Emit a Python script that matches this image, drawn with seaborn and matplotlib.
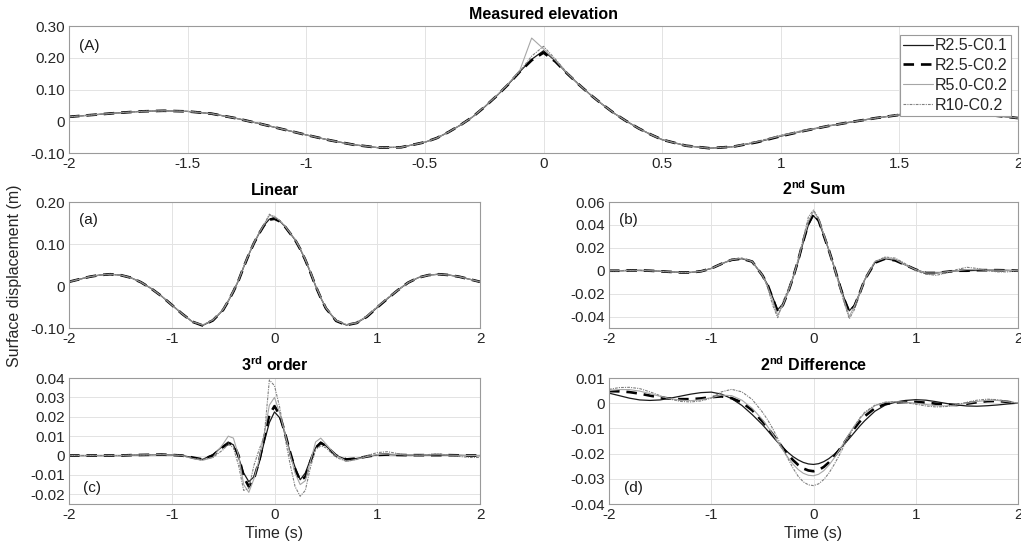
import numpy as np
import pandas as pd
import matplotlib
matplotlib.use("Agg")
import matplotlib.pyplot as plt
import seaborn as sns

# ---------------- data ----------------
T = [-2.0, -1.9, -1.8, -1.7, -1.6, -1.5, -1.4, -1.3, -1.2, -1.1, -1.0, -0.9, -0.8, -0.7, -0.6,
     -0.5, -0.45, -0.4, -0.35, -0.3, -0.25, -0.2, -0.15, -0.1, -0.05, 0.0,
     0.05, 0.1, 0.15, 0.2, 0.25, 0.3, 0.35, 0.4, 0.45, 0.5,
     0.6, 0.7, 0.8, 0.9, 1.0, 1.1, 1.2, 1.3, 1.4, 1.5, 1.6, 1.7, 1.8, 1.9, 2.0]

series_names = ["R2.5-C0.1", "R2.5-C0.2", "R5.0-C0.2", "R10-C0.2"]

# (A) Measured elevation
meas_r25_c01 = [0.014, 0.020, 0.026, 0.031, 0.033, 0.031, 0.024, 0.010, -0.007, -0.025, -0.043, -0.060, -0.074, -0.083, -0.082,
                -0.066, -0.053, -0.034, -0.012, 0.013, 0.044, 0.078, 0.115, 0.156, 0.195, 0.222,
                0.190, 0.150, 0.115, 0.082, 0.052, 0.024, 0.000, -0.022, -0.041, -0.058,
                -0.077, -0.085, -0.080, -0.066, -0.047, -0.030, -0.015, -0.002, 0.010, 0.020, 0.025, 0.026, 0.024, 0.018, 0.010]
meas_r25_c02 = [0.014, 0.020, 0.026, 0.031, 0.033, 0.031, 0.024, 0.010, -0.007, -0.025, -0.043, -0.060, -0.074, -0.083, -0.082,
                -0.066, -0.053, -0.034, -0.012, 0.013, 0.044, 0.078, 0.115, 0.156, 0.192, 0.216,
                0.188, 0.150, 0.115, 0.082, 0.052, 0.024, 0.000, -0.022, -0.041, -0.058,
                -0.077, -0.085, -0.080, -0.066, -0.047, -0.030, -0.015, -0.002, 0.010, 0.020, 0.025, 0.026, 0.024, 0.018, 0.010]
meas_r50_c02 = [0.014, 0.020, 0.026, 0.031, 0.033, 0.031, 0.024, 0.010, -0.007, -0.025, -0.043, -0.060, -0.074, -0.083, -0.082,
                -0.066, -0.053, -0.034, -0.012, 0.013, 0.045, 0.079, 0.117, 0.160, 0.262, 0.228,
                0.192, 0.151, 0.115, 0.082, 0.052, 0.024, 0.000, -0.022, -0.041, -0.058,
                -0.077, -0.085, -0.080, -0.065, -0.046, -0.030, -0.015, -0.002, 0.010, 0.020, 0.026, 0.027, 0.024, 0.018, 0.010]
meas_r10_c02 = [0.014, 0.020, 0.026, 0.031, 0.033, 0.031, 0.024, 0.010, -0.007, -0.025, -0.043, -0.060, -0.074, -0.083, -0.082,
                -0.066, -0.053, -0.034, -0.012, 0.013, 0.044, 0.078, 0.116, 0.157, 0.205, 0.236,
                0.196, 0.152, 0.116, 0.082, 0.052, 0.024, 0.000, -0.022, -0.041, -0.058,
                -0.077, -0.085, -0.080, -0.064, -0.044, -0.028, -0.014, -0.002, 0.010, 0.022, 0.028, 0.028, 0.024, 0.018, 0.010]

# (a) Linear
lin_r25_c01 = [0.010, 0.016, 0.022, 0.026, 0.028, 0.026, 0.020, 0.009, -0.006, -0.024, -0.045, -0.066, -0.085, -0.094, -0.082,
               -0.057, -0.036, -0.013, 0.013, 0.045, 0.075, 0.102, 0.125, 0.145, 0.159, 0.163,
               0.155, 0.142, 0.126, 0.110, 0.088, 0.062, 0.032, 0.000, -0.028, -0.053,
               -0.083, -0.093, -0.088, -0.073, -0.051, -0.030, -0.010, 0.008, 0.020, 0.026, 0.028, 0.026, 0.022, 0.016, 0.010]
lin_r25_c02 = [0.010, 0.016, 0.022, 0.026, 0.028, 0.026, 0.020, 0.009, -0.006, -0.024, -0.045, -0.066, -0.085, -0.094, -0.082,
               -0.057, -0.036, -0.013, 0.013, 0.045, 0.075, 0.102, 0.125, 0.145, 0.158, 0.160,
               0.154, 0.142, 0.126, 0.110, 0.088, 0.062, 0.032, 0.000, -0.028, -0.053,
               -0.083, -0.093, -0.088, -0.073, -0.051, -0.030, -0.010, 0.008, 0.020, 0.026, 0.028, 0.026, 0.022, 0.016, 0.010]
lin_r50_c02 = [0.010, 0.016, 0.022, 0.026, 0.028, 0.026, 0.020, 0.009, -0.006, -0.024, -0.045, -0.066, -0.085, -0.093, -0.081,
               -0.056, -0.035, -0.012, 0.014, 0.046, 0.076, 0.103, 0.126, 0.147, 0.168, 0.166,
               0.156, 0.143, 0.127, 0.111, 0.089, 0.063, 0.033, 0.001, -0.027, -0.052,
               -0.082, -0.092, -0.088, -0.072, -0.050, -0.029, -0.010, 0.008, 0.020, 0.026, 0.028, 0.026, 0.022, 0.016, 0.010]
lin_r10_c02 = [0.010, 0.016, 0.022, 0.026, 0.028, 0.026, 0.020, 0.009, -0.006, -0.024, -0.045, -0.066, -0.085, -0.093, -0.081,
               -0.056, -0.035, -0.012, 0.014, 0.046, 0.076, 0.103, 0.126, 0.147, 0.171, 0.163,
               0.156, 0.143, 0.127, 0.111, 0.089, 0.063, 0.033, 0.001, -0.027, -0.052,
               -0.082, -0.092, -0.087, -0.071, -0.049, -0.029, -0.010, 0.008, 0.020, 0.026, 0.028, 0.026, 0.022, 0.016, 0.010]

# (b) 2nd Sum
sum_r25_c01 = [0.000, 0.000, 0.0003, 0.0003, 0.000, -0.0005, -0.001, -0.0015, -0.0015, -0.0005, 0.002, 0.006, 0.0095, 0.0105, 0.008,
               -0.004, -0.012, -0.023, -0.034, -0.029, -0.019, -0.006, 0.008, 0.025, 0.040, 0.048,
               0.043, 0.031, 0.018, 0.004, -0.010, -0.024, -0.035, -0.030, -0.020, -0.008,
               0.007, 0.0105, 0.009, 0.005, 0.001, -0.002, -0.002, -0.001, 0.000, 0.000, 0.0005, 0.0005, 0.0005, 0.0003, 0.000]
sum_r25_c02 = [0.000, 0.000, 0.0003, 0.0003, 0.000, -0.0005, -0.001, -0.0015, -0.0015, -0.0005, 0.002, 0.006, 0.0095, 0.0105, 0.008,
               -0.004, -0.012, -0.024, -0.036, -0.030, -0.019, -0.006, 0.009, 0.026, 0.041, 0.050,
               0.044, 0.031, 0.018, 0.004, -0.011, -0.025, -0.036, -0.031, -0.020, -0.008,
               0.007, 0.0105, 0.009, 0.005, 0.001, -0.002, -0.002, -0.001, 0.000, 0.000, 0.0005, 0.0005, 0.0005, 0.0003, 0.000]
sum_r50_c02 = [0.000, 0.000, 0.0003, 0.0003, 0.000, -0.0005, -0.001, -0.0015, -0.0015, -0.0005, 0.002, 0.006, 0.0095, 0.011, 0.008,
               -0.004, -0.013, -0.026, -0.039, -0.030, -0.019, -0.006, 0.009, 0.027, 0.043, 0.052,
               0.045, 0.032, 0.018, 0.004, -0.011, -0.026, -0.040, -0.031, -0.020, -0.008,
               0.008, 0.011, 0.010, 0.005, 0.001, -0.002, -0.002, -0.001, 0.000, 0.001, 0.001, 0.0005, 0.0005, 0.0003, 0.000]
sum_r10_c02 = [0.000, 0.000, 0.0003, 0.0003, 0.000, -0.0005, -0.001, -0.0015, -0.0015, -0.0005, 0.002, 0.006, 0.010, 0.011, 0.008,
               -0.004, -0.014, -0.030, -0.041, -0.027, -0.017, -0.005, 0.010, 0.028, 0.047, 0.053,
               0.046, 0.032, 0.018, 0.003, -0.012, -0.028, -0.042, -0.034, -0.021, -0.008,
               0.008, 0.012, 0.011, 0.006, 0.000, -0.003, -0.004, -0.002, 0.001, 0.003, 0.002, 0.000, -0.001, -0.001, 0.000]

# (c) 3rd order
ord3_r25_c01 = [0.000, 0.000, 0.000, 0.000, 0.000, 0.000, 0.0002, 0.0003, 0.0004, 0.0005, 0.0003, 0.000, -0.001, -0.002, 0.0005,
                0.005, 0.007, 0.0055, -0.001, -0.009, -0.0135, -0.011, -0.004, 0.007, 0.017, 0.0225,
                0.0195, 0.012, 0.002, -0.006, -0.0125, -0.009, -0.002, 0.004, 0.007, 0.005,
                0.000, -0.002, -0.0015, -0.0005, 0.0003, 0.0005, 0.0003, 0.0002, 0.0002, 0.0002, 0.0002, 0.0002, 0.0001, 0.000, 0.000]
ord3_r25_c02 = [0.000, 0.000, 0.000, 0.000, 0.000, 0.000, 0.0002, 0.0003, 0.0004, 0.0005, 0.0003, 0.000, -0.001, -0.002, 0.000,
                0.0045, 0.006, 0.006, 0.000, -0.011, -0.016, -0.012, -0.003, 0.009, 0.021, 0.0255,
                0.021, 0.012, 0.002, -0.007, -0.013, -0.011, -0.003, 0.004, 0.0065, 0.005,
                0.000, -0.002, -0.0015, -0.0005, 0.0003, 0.0005, 0.0003, 0.0002, 0.0002, 0.0002, 0.0002, 0.0002, 0.0001, 0.000, 0.000]
ord3_r50_c02 = [0.000, 0.000, 0.000, 0.000, 0.000, 0.000, 0.0002, 0.0003, 0.0004, 0.0005, 0.0003, 0.000, -0.0015, -0.0025, -0.001,
                0.006, 0.010, 0.009, 0.000, -0.015, -0.019, -0.012, -0.002, 0.011, 0.026, 0.030,
                0.022, 0.012, 0.001, -0.009, -0.015, -0.013, -0.003, 0.007, 0.009, 0.006,
                0.000, -0.003, -0.002, -0.0005, 0.0005, 0.0008, 0.0005, 0.0003, 0.0002, 0.0003, 0.0004, 0.0002, 0.0001, 0.000, 0.000]
ord3_r10_c02 = [0.000, 0.000, 0.000, 0.000, 0.000, 0.000, 0.0002, 0.0003, 0.0004, 0.0005, 0.0003, 0.000, -0.0015, -0.002, -0.001,
                0.003, 0.006, 0.004, -0.005, -0.018, -0.017, -0.005, 0.003, 0.010, 0.039, 0.036,
                0.025, 0.010, -0.004, -0.016, -0.021, -0.018, -0.006, 0.003, 0.005, 0.004,
                -0.001, -0.003, -0.002, 0.000, 0.0015, 0.002, 0.001, 0.000, 0.000, 0.0005, 0.001, 0.000, -0.0005, -0.001, -0.001]

# (d) 2nd Difference
dif_r25_c01 = [0.0040, 0.0030, 0.0020, 0.0013, 0.0011, 0.0013, 0.0020, 0.0028, 0.0036, 0.0042, 0.0044, 0.0036, 0.0018, -0.0009, -0.0045,
               -0.0085, -0.0108, -0.0132, -0.0155, -0.0176, -0.0195, -0.0212, -0.0225, -0.0235, -0.0241, -0.0243,
               -0.0240, -0.0232, -0.0220, -0.0204, -0.0185, -0.0163, -0.0140, -0.0116, -0.0092, -0.0070,
               -0.0032, -0.0008, 0.0004, 0.0011, 0.0014, 0.0012, 0.0006, -0.0001, -0.0007, -0.0011, -0.0012, -0.0010, -0.0007, -0.0003, 0.0000]
dif_r25_c02 = [0.0048, 0.0047, 0.0044, 0.0038, 0.0030, 0.0023, 0.0018, 0.0016, 0.0016, 0.0019, 0.0024, 0.0027, 0.0020, 0.0003, -0.0028,
               -0.0072, -0.0097, -0.0123, -0.0150, -0.0178, -0.0203, -0.0226, -0.0245, -0.0259, -0.0267, -0.0270,
               -0.0265, -0.0253, -0.0235, -0.0212, -0.0186, -0.0158, -0.0128, -0.0100, -0.0074, -0.0052,
               -0.0020, -0.0003, 0.0003, 0.0005, 0.0005, 0.0002, -0.0002, -0.0006, -0.0007, -0.0002, 0.0004, 0.0008, 0.0009, 0.0005, 0.0000]
dif_r50_c02 = [0.0050, 0.0054, 0.0054, 0.0048, 0.0038, 0.0027, 0.0018, 0.0012, 0.0010, 0.0014, 0.0022, 0.0032, 0.0030, 0.0012, -0.0020,
               -0.0065, -0.0092, -0.0122, -0.0153, -0.0185, -0.0215, -0.0242, -0.0263, -0.0278, -0.0286, -0.0288,
               -0.0282, -0.0268, -0.0246, -0.0219, -0.0188, -0.0155, -0.0121, -0.0090, -0.0063, -0.0040,
               -0.0010, 0.0003, 0.0006, 0.0004, 0.0000, -0.0005, -0.0010, -0.0011, -0.0007, 0.0000, 0.0007, 0.0011, 0.0011, 0.0006, 0.0000]
dif_r10_c02 = [0.0055, 0.0062, 0.0063, 0.0058, 0.0045, 0.0030, 0.0016, 0.0007, 0.0005, 0.0009, 0.0020, 0.0045, 0.0055, 0.0045, 0.0015,
               -0.0035, -0.0065, -0.0100, -0.0140, -0.0180, -0.0220, -0.0258, -0.0290, -0.0312, -0.0324, -0.0327,
               -0.0320, -0.0303, -0.0278, -0.0245, -0.0208, -0.0168, -0.0128, -0.0092, -0.0060, -0.0036,
               -0.0008, 0.0004, 0.0006, 0.0002, -0.0004, -0.0011, -0.0015, -0.0013, -0.0006, 0.0004, 0.0012, 0.0016, 0.0014, 0.0008, 0.0000]

x_ticks_top = [-2, -1.5, -1, -0.5, 0, 0.5, 1, 1.5, 2]
x_ticklabels_top = ["-2", "-1.5", "-1", "-0.5", "0", "0.5", "1", "1.5", "2"]
x_ticks_small = [-2, -1, 0, 1, 2]
x_ticklabels_small = ["-2", "-1", "0", "1", "2"]
y_ticks_A = [-0.10, 0, 0.10, 0.20, 0.30]
y_ticklabels_A = ["-0.10", "0", "0.10", "0.20", "0.30"]
y_ticks_a = [-0.10, 0, 0.10, 0.20]
y_ticklabels_a = ["-0.10", "0", "0.10", "0.20"]
y_ticks_b = [-0.04, -0.02, 0, 0.02, 0.04, 0.06]
y_ticklabels_b = ["-0.04", "-0.02", "0", "0.02", "0.04", "0.06"]
y_ticks_c = [-0.02, -0.01, 0, 0.01, 0.02, 0.03, 0.04]
y_ticklabels_c = ["-0.02", "-0.01", "0", "0.01", "0.02", "0.03", "0.04"]
y_ticks_d = [-0.04, -0.03, -0.02, -0.01, 0, 0.01]
y_ticklabels_d = ["-0.04", "-0.03", "-0.02", "-0.01", "0", "0.01"]

# ---------------- style ----------------
sns.set_theme(style="whitegrid")
plt.rcParams["font.family"] = ["Liberation Sans", "DejaVu Sans"]
plt.rcParams["mathtext.fontset"] = "custom"
plt.rcParams["mathtext.rm"] = "Liberation Sans"
plt.rcParams["mathtext.bf"] = "Liberation Sans:bold"

line_styles = {
    "R2.5-C0.1": dict(color="#1a1a1a", lw=0.9, ls="-"),
    "R2.5-C0.2": dict(color="#000000", lw=1.9, ls=(0, (4.0, 2.6))),
    "R5.0-C0.2": dict(color="#a6a6a6", lw=0.8, ls="-"),
    "R10-C0.2": dict(color="#808080", lw=0.8, ls=(0, (2.5, 1.0, 1.0, 1.0))),
}

W, H = 1021, 556
fig = plt.figure(figsize=(W / 100, H / 100), dpi=100)


def make_ax(x0, y0, x1, y1):
    return fig.add_axes([x0 / W, 1 - y1 / H, (x1 - x0) / W, (y1 - y0) / H])


panels = [
    dict(rect=(69, 26, 1018, 153), data=[meas_r25_c01, meas_r25_c02, meas_r50_c02, meas_r10_c02],
         title="Measured elevation", ylim=(-0.10, 0.30), yt=(y_ticks_A, y_ticklabels_A),
         xt=(x_ticks_top, x_ticklabels_top), tag="(A)", tagpos=(0.011, 0.84), legend=True, xlabel=None),
    dict(rect=(69, 202, 480, 328), data=[lin_r25_c01, lin_r25_c02, lin_r50_c02, lin_r10_c02],
         title="Linear", ylim=(-0.10, 0.20), yt=(y_ticks_a, y_ticklabels_a),
         xt=(x_ticks_small, x_ticklabels_small), tag="(a)", tagpos=(0.024, 0.86), legend=False, xlabel=None),
    dict(rect=(609, 202, 1018, 328), data=[sum_r25_c01, sum_r25_c02, sum_r50_c02, sum_r10_c02],
         title=r"2$^{\mathbf{nd}}$ Sum", ylim=(-0.05, 0.06), yt=(y_ticks_b, y_ticklabels_b),
         xt=(x_ticks_small, x_ticklabels_small), tag="(b)", tagpos=(0.024, 0.86), legend=False, xlabel=None),
    dict(rect=(69, 378, 480, 504), data=[ord3_r25_c01, ord3_r25_c02, ord3_r50_c02, ord3_r10_c02],
         title=r"3$^{\mathbf{rd}}$ order", ylim=(-0.025, 0.04), yt=(y_ticks_c, y_ticklabels_c),
         xt=(x_ticks_small, x_ticklabels_small), tag="(c)", tagpos=(0.034, 0.13), legend=False, xlabel="Time (s)"),
    dict(rect=(609, 378, 1018, 504), data=[dif_r25_c01, dif_r25_c02, dif_r50_c02, dif_r10_c02],
         title=r"2$^{\mathbf{nd}}$ Difference", ylim=(-0.04, 0.01), yt=(y_ticks_d, y_ticklabels_d),
         xt=(x_ticks_small, x_ticklabels_small), tag="(d)", tagpos=(0.037, 0.13), legend=False, xlabel="Time (s)"),
]

for p in panels:
    ax = make_ax(*p["rect"])
    ax.set_facecolor("white")
    for name, vals in zip(series_names, p["data"]):
        st = line_styles[name]
        sns.lineplot(x=T, y=vals, ax=ax, color=st["color"], linewidth=st["lw"],
                     linestyle=st["ls"], label=name, estimator=None, sort=False)
    ax.set_xlim(-2, 2)
    ax.set_ylim(*p["ylim"])
    ax.set_xticks(p["xt"][0])
    ax.set_xticklabels(p["xt"][1])
    ax.set_yticks(p["yt"][0])
    ax.set_yticklabels(p["yt"][1])
    ax.grid(True, color="#e3e3e3", linewidth=0.7)
    for s in ax.spines.values():
        s.set_visible(True)
        s.set_color("#9a9a9a")
        s.set_linewidth(0.8)
    ax.tick_params(axis="both", which="both", direction="in", length=3, width=0.6,
                   color="#9a9a9a", labelsize=11, labelcolor="#262626", pad=3)
    ax.set_title(p["title"], fontsize=11.5, fontweight="bold", color="black", pad=5)
    ax.text(p["tagpos"][0], p["tagpos"][1], p["tag"], transform=ax.transAxes,
            fontsize=11, color="#1a1a1a", ha="left", va="center")
    if p["xlabel"]:
        ax.set_xlabel(p["xlabel"], fontsize=11.5, color="#262626", labelpad=3)
    else:
        ax.set_xlabel("")
    ax.set_ylabel("")
    if p["legend"]:
        leg = ax.legend(loc="upper right", bbox_to_anchor=(0.9926, 0.929), fontsize=11.5, frameon=True,
                        fancybox=False, framealpha=1, edgecolor="#9a9a9a", borderpad=0.2,
                        labelspacing=0.3, handlelength=1.9, handletextpad=0.1, borderaxespad=0.0)
        leg.get_frame().set_linewidth(0.8)
    else:
        lg = ax.get_legend()
        if lg is not None:
            lg.remove()

fig.text(15 / W, 1 - 276 / H, "Surface displacement (m)", rotation=90, ha="center", va="center",
         fontsize=11.5, color="#262626")

fig.savefig("out.png", dpi=100, facecolor="white")
